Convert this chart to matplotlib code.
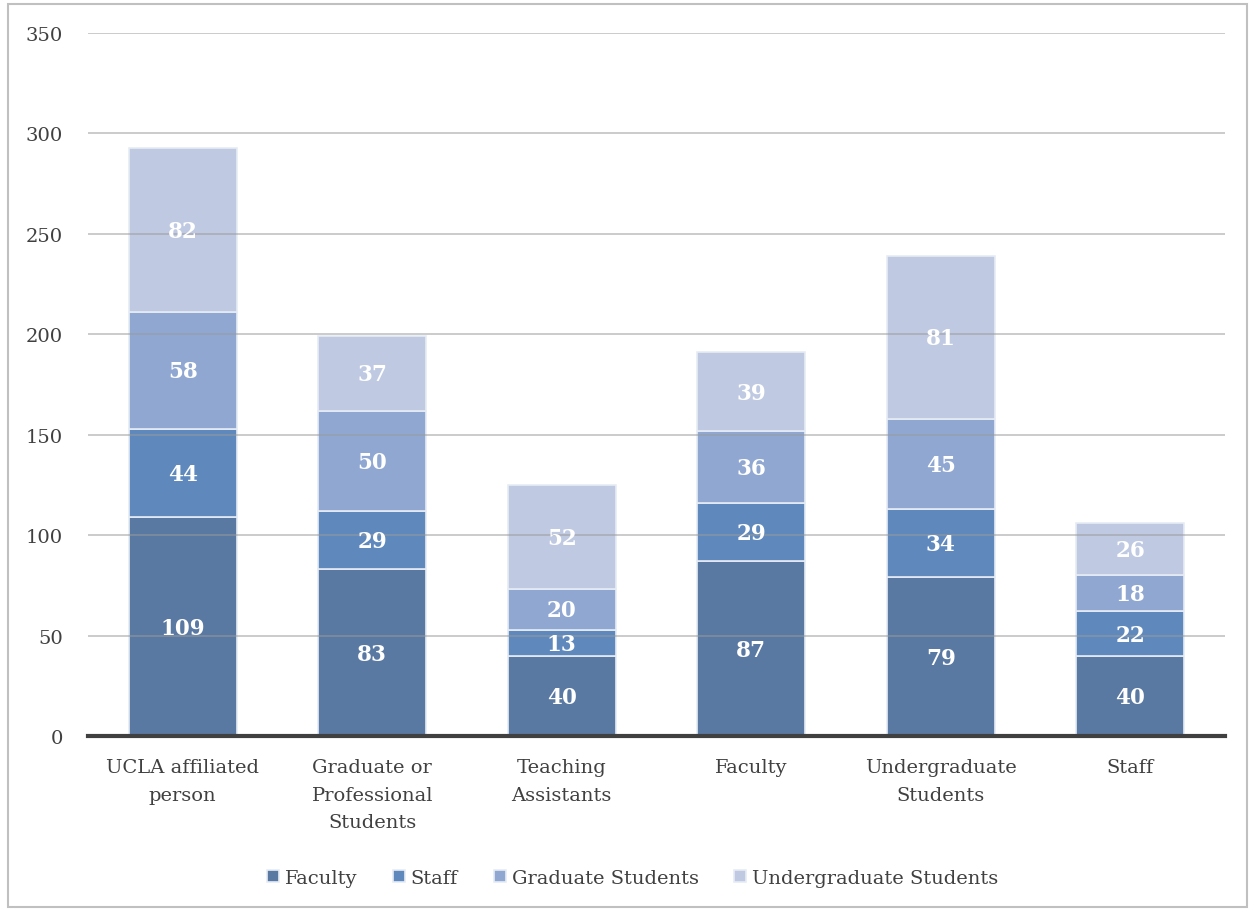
import matplotlib
matplotlib.use("Agg")
import matplotlib.pyplot as plt
from matplotlib.patches import Rectangle
import numpy as np

categories = ["UCLA affiliated\nperson", "Graduate or\nProfessional\nStudents",
              "Teaching\nAssistants", "Faculty", "Undergraduate\nStudents", "Staff"]
faculty = [109, 83, 40, 87, 79, 40]
staff = [44, 29, 13, 29, 34, 22]
grad = [58, 50, 20, 36, 45, 18]
undergrad = [82, 37, 52, 39, 81, 26]

series_names = ["Faculty", "Staff", "Graduate Students", "Undergraduate Students"]
series_vals = [faculty, staff, grad, undergrad]
colors = ["#5979a3", "#5f89bd", "#8fa7d1", "#bfcae2"]

plt.rcParams['font.family'] = ['DejaVu Serif']

fig = plt.figure(figsize=(12.53, 9.12), dpi=100)
ax = fig.add_axes([0.0702, 0.1919, 0.9075, 0.7708])

x = np.arange(len(categories))
bottom = np.zeros(len(categories))
for name, vals, col in zip(series_names, series_vals, colors):
    vals = np.array(vals)
    ax.bar(x, vals, 0.57, bottom=bottom, color=col, edgecolor="#e6ecf5",
           linewidth=1.2, label=name, zorder=2)
    for xi, b, v in zip(x, bottom, vals):
        ax.text(xi, b + v / 2 - 0.5, str(v), ha="center", va="center", color="white",
                fontsize=15.5, fontweight="bold", zorder=4)
    bottom = bottom + vals

ax.set_xlim(-0.5, 5.5)
ax.set_ylim(0, 350)
ax.set_yticks(range(0, 351, 50))
ax.yaxis.grid(True, color="#9a9a9a", linewidth=1.2, alpha=0.6, zorder=3)
ax.set_axisbelow(False)
for s in ["top", "right", "left"]:
    ax.spines[s].set_visible(False)
ax.spines["bottom"].set_color("#404040")
ax.spines["bottom"].set_linewidth(3)
ax.spines["bottom"].set_zorder(5)
ax.tick_params(axis="both", length=0, labelsize=14, colors="#404040")
ax.tick_params(axis="x", pad=16)
ax.tick_params(axis="y", pad=18)
ax.set_xticks(x)
ax.set_xticklabels(categories, linespacing=1.68)

leg = fig.legend(loc="lower center", bbox_to_anchor=(0.505, 0.007), ncol=4, frameon=False,
                 fontsize=14, handlelength=0.6, handleheight=0.6, handletextpad=0.3,
                 columnspacing=1.85)
for t in leg.get_texts():
    t.set_color("#404040")

fig.patches.append(Rectangle((0.006, 0.004), 0.989, 0.99, transform=fig.transFigure,
                             fill=False, edgecolor="#c0c0c0", linewidth=1.5))

fig.savefig("out.png", dpi=100)
